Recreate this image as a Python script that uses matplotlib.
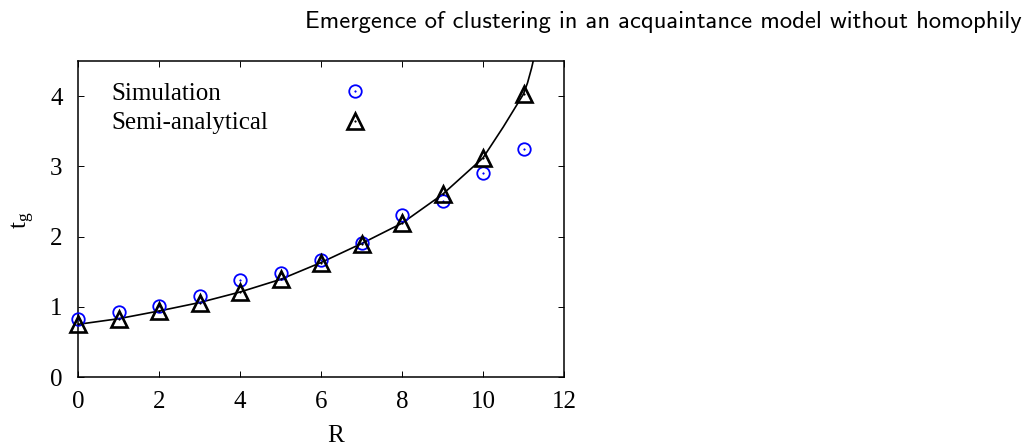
import matplotlib
matplotlib.use("Agg")
import matplotlib.pyplot as plt
from matplotlib.legend_handler import HandlerTuple

# Growth time t_g against R
R = [0, 1, 2, 3, 4, 5, 6, 7, 8, 9, 10, 11]
sim = [0.82, 0.93, 1.01, 1.15, 1.375, 1.48, 1.66, 1.91, 2.30, 2.50, 2.91, 3.25]
semi = [0.75, 0.83, 0.94, 1.06, 1.21, 1.39, 1.63, 1.90, 2.19, 2.60, 3.12, 4.03]

# semi-analytical curve (finer near the divergence)
curve_R = [0, 1, 2, 3, 4, 5, 6, 7, 8, 9, 10, 10.5, 11, 11.1, 11.2, 11.3]
curve_t = [0.75, 0.83, 0.94, 1.06, 1.21, 1.39, 1.63, 1.90, 2.19, 2.60, 3.12,
           3.56, 4.03, 4.19, 4.40, 4.65]

x_ticks = [0, 2, 4, 6, 8, 10, 12]
y_ticks = [0, 1, 2, 3, 4]

plt.rcParams["font.family"] = "serif"
plt.rcParams["font.serif"] = ["Liberation Serif", "DejaVu Serif"]
plt.rcParams["mathtext.fontset"] = "custom"
plt.rcParams["mathtext.rm"] = "Liberation Serif"
plt.rcParams["font.size"] = 18

fig = plt.figure(figsize=(10.26, 4.45), dpi=100)
ax = fig.add_axes([78 / 1026, 1 - 377 / 445, 486 / 1026, 316 / 445])

ax.plot(curve_R, curve_t, color="black", lw=1.2, zorder=2)

sim_o, = ax.plot(R, sim, ls="none", marker="o", ms=9, mfc="none", mec="blue",
                 mew=1.3, clip_on=False, zorder=3)
sim_dot, = ax.plot(R, sim, ls="none", marker="o", ms=1.2, mfc="blue", mec="blue",
                   mew=0.3, clip_on=False, zorder=3)
semi_t, = ax.plot(R, semi, ls="none", marker="^", ms=11.5, mfc="none", mec="black",
                  mew=1.9, clip_on=False, zorder=4)
semi_dot, = ax.plot(R, semi, ls="none", marker="o", ms=1.2, mfc="black",
                    mec="black", mew=0.3, clip_on=False, zorder=4)

ax.set_xlim(0, 12)
ax.set_ylim(0, 4.5)
ax.set_xticks(x_ticks)
ax.set_yticks(y_ticks)
ax.tick_params(direction="in", top=True, right=True, length=4.5, width=0.7)
ax.tick_params(axis="x", pad=10)
ax.tick_params(axis="y", pad=11)
for sp in ax.spines.values():
    sp.set_linewidth(1.1)

ax.set_xlabel("R")
ax.xaxis.set_label_coords(0.531, -0.152)
ax.set_ylabel(r"$\mathrm{t_g}$")
ax.yaxis.set_label_coords(-0.084, 0.497)

leg = ax.legend([(sim_o, sim_dot), (semi_t, semi_dot)],
                ["Simulation", "Semi-analytical"],
                handler_map={tuple: HandlerTuple()}, markerfirst=False,
                frameon=False, loc="upper left", bbox_to_anchor=(0.068, 0.933),
                borderpad=0, borderaxespad=0, handlelength=1.0,
                handletextpad=0.5, labelspacing=0.29, fontsize=18)
# keep labels left-justified with the keys lined up on the right
for column in leg._legend_handle_box.get_children():
    for item in column.get_children():
        item.mode = "expand"
        item.width = 256

fig.text(1022 / 1026, 1 - 22 / 445,
         "Emergence of clustering in an acquaintance model without homophily",
         ha="right", va="center", fontsize=17.7, family="cmss10")

fig.savefig("out.png", dpi=100)
